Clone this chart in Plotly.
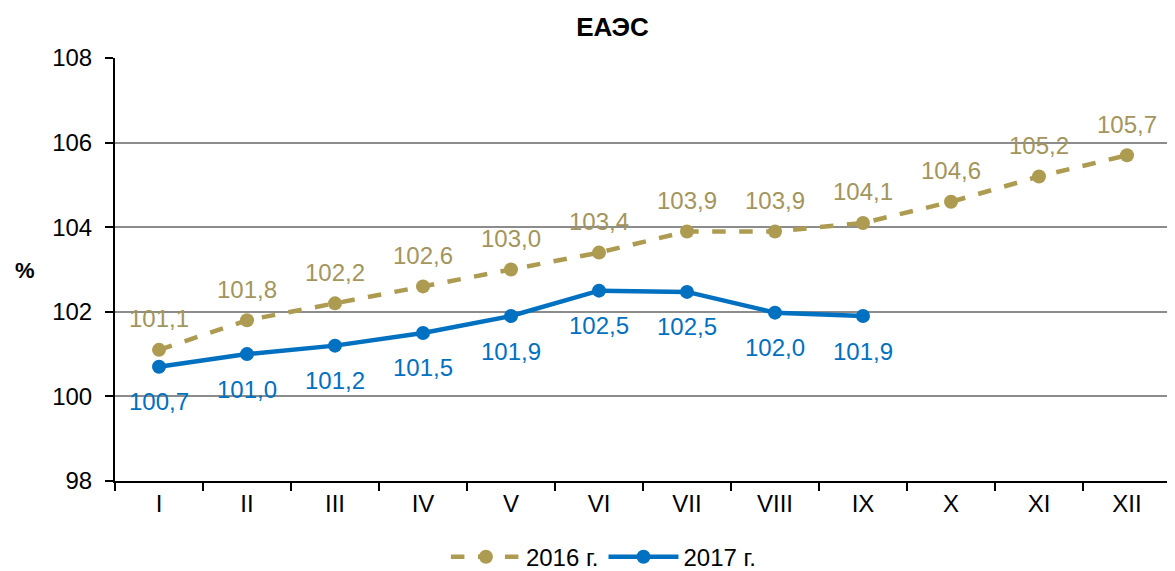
import plotly.graph_objects as go

months = ["I", "II", "III", "IV", "V", "VI", "VII", "VIII", "IX", "X", "XI", "XII"]
values_2016 = [101.1, 101.8, 102.2, 102.6, 103.0, 103.4, 103.9, 103.9, 104.1, 104.6, 105.2, 105.7]
values_2017 = [100.7, 101.0, 101.2, 101.5, 101.9, 102.5, 102.47, 101.98, 101.9]
y_ticks = [98, 100, 102, 104, 106, 108]

GOLD = "#AE9B52"
GOLD_TXT = "#A3955B"
BLUE = "#0070C0"
FONT = "Liberation Sans, Arial, sans-serif"
FS = 24

fig = go.Figure()
fig.add_trace(go.Scatter(
    x=months, y=values_2016, name="2016 г.", mode="lines+markers",
    line=dict(color=GOLD, width=4.5, dash="dash"),
    marker=dict(color=GOLD, size=14),
))
fig.add_trace(go.Scatter(
    x=months[:len(values_2017)], y=values_2017, name="2017 г.", mode="lines+markers",
    line=dict(color=BLUE, width=4.5),
    marker=dict(color=BLUE, size=14),
))

def fmt(v):
    return f"{v:.1f}".replace(".", ",")

annotations = []
for m, v in zip(months, values_2016):
    annotations.append(dict(x=m, y=v, text=fmt(v), showarrow=False, yshift=31,
                            font=dict(family=FONT, size=FS, color=GOLD_TXT)))
for m, v in zip(months, values_2017):
    annotations.append(dict(x=m, y=v, text=fmt(v), showarrow=False, yshift=-35,
                            font=dict(family=FONT, size=FS, color=BLUE)))
annotations.append(dict(text="<b>%</b>", xref="paper", yref="paper", x=-0.085, y=0.497,
                        xanchor="center", yanchor="middle", showarrow=False,
                        font=dict(family=FONT, size=22, color="black")))

# page body adds an 8px offset; compensate so the plot area lands at x 115-1171, y 58-481
fig.update_layout(
    width=1167, height=563,
    margin=dict(l=107, r=4, t=50, b=90, autoexpand=False),
    paper_bgcolor="white", plot_bgcolor="white",
    title=dict(text="<b>ЕАЭС</b>", x=0.518, xanchor="center", y=0.967, yanchor="middle",
               font=dict(family=FONT, size=26, color="black")),
    font=dict(family=FONT, size=FS, color="black"),
    showlegend=True,
    legend=dict(orientation="h", x=0.463, xanchor="center", y=-0.18, yanchor="middle",
                itemwidth=70,
                font=dict(family=FONT, size=FS, color="black")),
    annotations=annotations,
)
fig.update_xaxes(
    range=[-0.5, len(months) - 0.5],
    showline=True, linecolor="black", linewidth=2,
    ticks="outside", ticklen=8, tickwidth=2, tickcolor="black",
    tickson="boundaries", showgrid=False,
    tickfont=dict(family=FONT, size=FS, color="black"),
)
fig.update_yaxes(
    range=[98, 108], tickvals=y_ticks,
    showline=True, linecolor="black", linewidth=2,
    ticks="outside", ticklen=8, tickwidth=2, tickcolor="black",
    ticklabelstandoff=8,
    showgrid=True, gridcolor="#8C8C8C", gridwidth=1.5, zeroline=False,
    tickfont=dict(family=FONT, size=FS, color="black"),
)

fig.write_html("out.html")
